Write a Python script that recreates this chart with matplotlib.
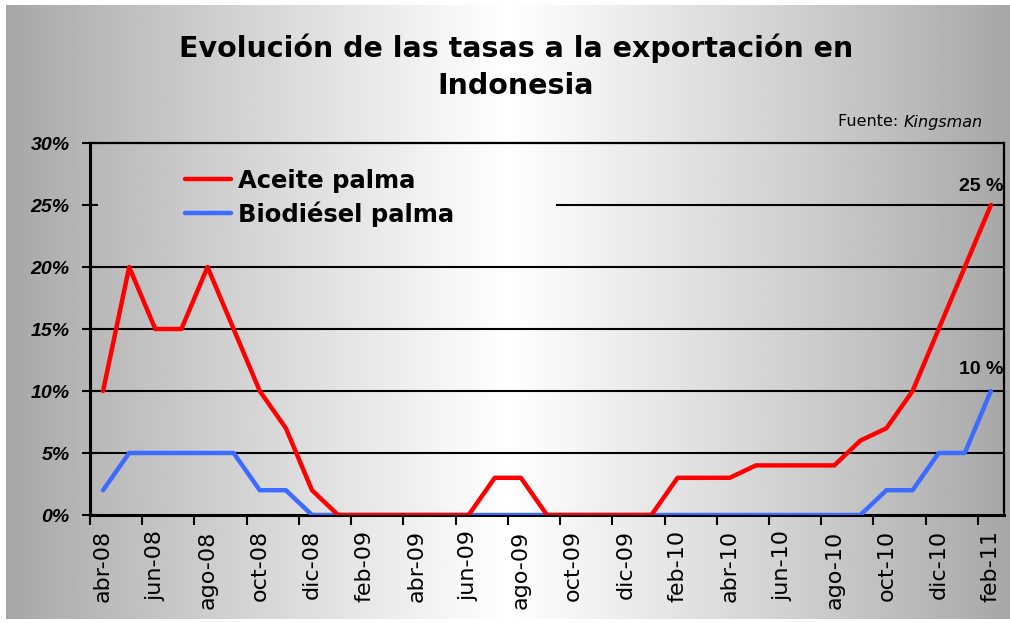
import numpy as np
import matplotlib
matplotlib.use('Agg')
from matplotlib import pyplot as plt

plt.rcParams['font.family'] = ['Liberation Sans', 'DejaVu Sans']

# datos mensuales abr-08 .. feb-11 (%)
aceite = [10, 20, 15, 15, 20, 15, 10, 7, 2, 0, 0, 0, 0, 0, 0, 3, 3, 0,
          0, 0, 0, 0, 3, 3, 3, 4, 4, 4, 4, 6, 7, 10, 15, 20, 25]
biodiesel = [2, 5, 5, 5, 5, 5, 2, 2, 0, 0, 0, 0, 0, 0, 0, 0, 0, 0,
             0, 0, 0, 0, 0, 0, 0, 0, 0, 0, 0, 0, 2, 2, 5, 5, 10]
etiquetas = ['abr-08', 'jun-08', 'ago-08', 'oct-08', 'dic-08', 'feb-09',
             'abr-09', 'jun-09', 'ago-09', 'oct-09', 'dic-09', 'feb-10',
             'abr-10', 'jun-10', 'ago-10', 'oct-10', 'dic-10', 'feb-11']
y_ticks = [0, 5, 10, 15, 20, 25, 30]

ancho = ['DejaVu Sans']  # fuente mas ancha, imita el espaciado del original

fig = plt.figure(figsize=(10.1, 6.23), dpi=100)

# fondo degradado horizontal gris-blanco-gris
bg = fig.add_axes([6 / 1010, 4 / 623, 1004 / 1010, 614 / 623])
xx = np.linspace(-1, 1, 512)
grad = 0.65 + 0.35 * (1 - np.abs(xx)) ** 0.9
bg.imshow(np.tile(grad, (2, 1)), cmap='gray', vmin=0, vmax=1, aspect='auto',
          extent=[0, 1, 0, 1])
bg.set_axis_off()

ax = fig.add_axes([90 / 1010, 108 / 623, 914 / 1010, 372 / 623])
ax.patch.set_alpha(0)

x = np.arange(len(aceite))
ax.plot(x, aceite, color='#ff0000', lw=3.2, label='Aceite palma', zorder=4,
        solid_joinstyle='round', solid_capstyle='round')
ax.plot(x, biodiesel, color='#3d6bff', lw=3.2, label='Biodiésel palma', zorder=3,
        solid_joinstyle='round', solid_capstyle='round')

ax.set_xlim(-0.5, len(x) - 0.5)
ax.set_ylim(0, 30)

# lineas de division
for v in y_ticks[1:-1]:
    if v == 25:
        ax.axhline(v, xmin=0.511, color='black', lw=1.5, zorder=1)
    else:
        ax.axhline(v, color='black', lw=1.5, zorder=1)

ax.set_yticks(y_ticks)
ax.set_yticklabels([f'{v}%' for v in y_ticks], fontsize=14, fontweight='bold',
                   fontstyle='italic')
ax.tick_params(axis='y', direction='inout', length=11, width=1.5, pad=9)

ax.set_xticks(np.arange(-0.5, len(x) - 1, 2))
ax.set_xticklabels([])
ax.tick_params(axis='x', which='major', direction='out', length=7, width=1.5)
ax.set_xticks(np.arange(0, len(x), 2), minor=True)
ax.set_xticklabels(etiquetas, minor=True, rotation=90, fontsize=16, family=ancho)
ax.tick_params(axis='x', which='minor', length=0, pad=11)

for s in ['left', 'bottom']:
    ax.spines[s].set_linewidth(2.2)
for s in ['top', 'right']:
    ax.spines[s].set_linewidth(1.6)

ax.annotate('25 %', (x[-1], aceite[-1]), xytext=(-7, 7), textcoords='offset points',
            ha='center', va='bottom', fontsize=14, fontweight='bold')
ax.annotate('10 %', (x[-1], biodiesel[-1]), xytext=(-7, 9), textcoords='offset points',
            ha='center', va='bottom', fontsize=14, fontweight='bold')

leg = ax.legend(loc='upper left', bbox_to_anchor=(0.08, 0.99), frameon=False,
                prop={'size': 17.5, 'weight': 'bold', 'family': ancho},
                handlelength=1.9, handletextpad=0.3, labelspacing=0.35)

fig.text(516 / 1010, 1 - 67 / 623,
         'Evolución de las tasas a la exportación en\nIndonesia',
         ha='center', va='center', fontsize=20.5, fontweight='bold',
         linespacing=1.42, family=ancho)

k = fig.text(983 / 1010, 1 - 122 / 623, 'Kingsman', ha='right', va='center',
             fontsize=11.5, fontstyle='italic', family=ancho)
ax.annotate('Fuente: ', xy=(0, 0.5), xycoords=k, ha='right', va='center',
            fontsize=11.5, family=ancho)

fig.savefig('out.png', dpi=100)
